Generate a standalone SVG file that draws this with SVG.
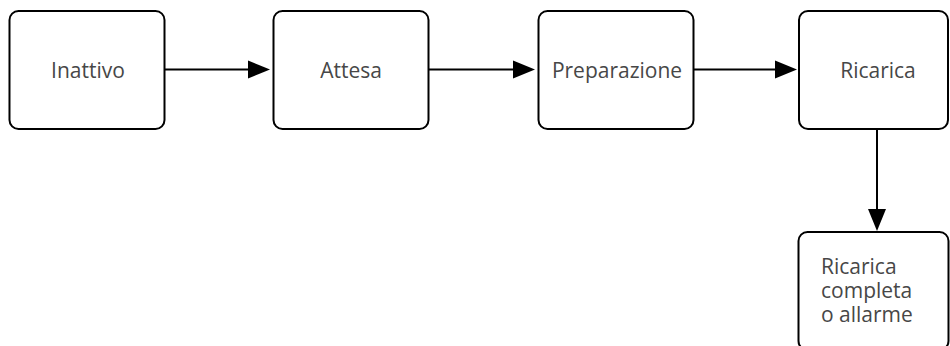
<svg xmlns="http://www.w3.org/2000/svg" width="950" height="346" viewBox="0 0 950 346">
<style>
.box{fill:#ffffff;stroke:#000000;stroke-width:2}
.lbl{font-family:"Open Sans","Noto Sans","Liberation Sans",sans-serif;font-size:21px;fill:#474747}
.edge{stroke:#000000;stroke-width:2;fill:none}
</style>
<defs>
<marker id="arr" markerUnits="userSpaceOnUse" markerWidth="22" markerHeight="18" refX="0" refY="9" orient="auto" overflow="visible">
<path d="M0,0 L22,9 L0,18 z" fill="#000000"/>
</marker>
</defs>
<rect width="950" height="346" fill="#ffffff"/>
<g id="edges">
<line class="edge" x1="164.5" y1="69.5" x2="248" y2="69.5" marker-end="url(#arr)"/>
<line class="edge" x1="428.5" y1="69.5" x2="513" y2="69.5" marker-end="url(#arr)"/>
<line class="edge" x1="693.5" y1="69.5" x2="775" y2="69.5" marker-end="url(#arr)"/>
<line class="edge" x1="877" y1="129" x2="877" y2="209" marker-end="url(#arr)"/>
</g>
<g id="inattivo">
<rect class="box" x="9.5" y="11" width="155" height="118" rx="9"/>
<text class="lbl" x="88" y="78" text-anchor="middle">Inattivo</text>
</g>
<g id="attesa">
<rect class="box" x="273.5" y="11" width="155" height="118" rx="9"/>
<text class="lbl" x="351" y="78" text-anchor="middle">Attesa</text>
</g>
<g id="preparazione">
<rect class="box" x="538.5" y="11" width="155" height="118" rx="9"/>
<text class="lbl" x="617" y="78" text-anchor="middle">Preparazione</text>
</g>
<g id="ricarica">
<rect class="box" x="799" y="11" width="149" height="118" rx="9"/>
<text class="lbl" x="878" y="78" text-anchor="middle">Ricarica</text>
</g>
<g id="completa">
<rect class="box" x="798.5" y="232" width="150" height="118" rx="9"/>
<text class="lbl" x="821" y="274">Ricarica</text>
<text class="lbl" x="821" y="298">completa</text>
<text class="lbl" x="821" y="322">o allarme</text>
</g>
</svg>
